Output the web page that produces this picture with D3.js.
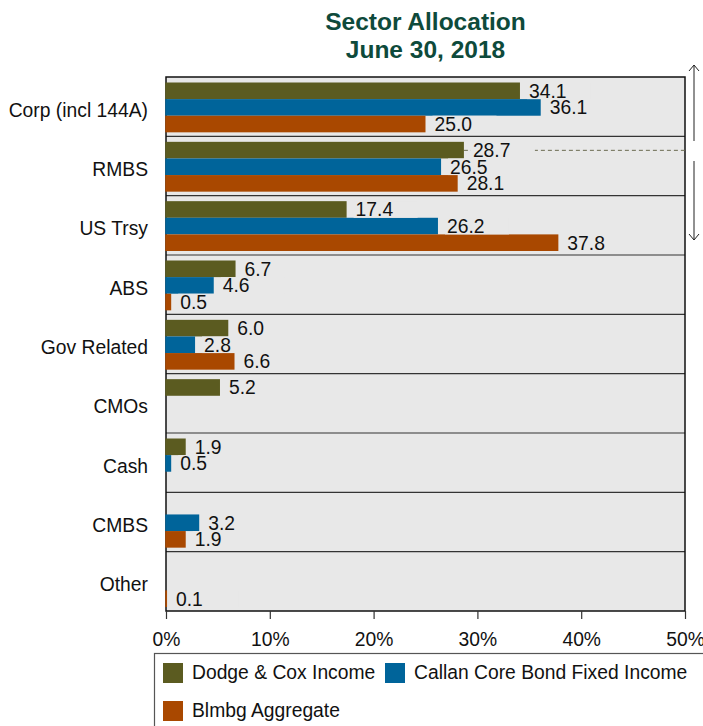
<!DOCTYPE html>
<html>
<head>
<meta charset="utf-8">
<script src="https://cdn.jsdelivr.net/npm/d3@7"></script>
<style>
  html, body { margin: 0; padding: 0; background: #fff; }
  svg { display: block; font-family: "Liberation Sans", Arial, sans-serif; }
</style>
</head>
<body>
<svg id="chart" width="703" height="726"></svg>
<script>
// Sector categories, top to bottom
const categories = ["Corp (incl 144A)", "RMBS", "US Trsy", "ABS", "Gov Related", "CMOs", "Cash", "CMBS", "Other"];
// Portfolio weights in percent (null = no holding)
const dodgeCox   = [34.1, 28.7, 17.4, 6.7, 6.0, 5.2, 1.9, null, null];
const callanCore = [36.1, 26.5, 26.2, 4.6, 2.8, null, 0.5, 3.2, null];
const blmbgAgg   = [25.0, 28.1, 37.8, 0.5, 6.6, null, null, 1.9, 0.1];
const seriesNames = ["Dodge & Cox Income", "Callan Core Bond Fixed Income", "Blmbg Aggregate"];
const seriesColors = ["#5b5b20", "#00649a", "#a94800"];
const xTicks = [0, 10, 20, 30, 40, 50];

const series = [dodgeCox, callanCore, blmbgAgg];
const svg = d3.select("#chart");
const FS = 19.3;
const plotBg = "#e8e8e8";

const plot = { left: 166, right: 685, top: 77, bottom: 611 };

const x = d3.scaleLinear().domain([0, 50]).range([plot.left, plot.right]);
const y = d3.scaleBand().domain(categories).range([plot.top, plot.bottom]);
const inner = d3.scaleBand().domain([0, 1, 2]).range([5.5, y.bandwidth() - 4]);

// Title
const title = svg.append("g").attr("fill", "#0e4a3b").attr("font-weight", "bold")
  .attr("font-size", 24.5).attr("text-anchor", "middle");
title.append("text").attr("x", (plot.left + plot.right) / 2).attr("y", 30).text("Sector Allocation");
title.append("text").attr("x", (plot.left + plot.right) / 2).attr("y", 58).text("June 30, 2018");

// Plot background
svg.append("rect")
  .attr("x", plot.left).attr("y", plot.top)
  .attr("width", plot.right - plot.left).attr("height", plot.bottom - plot.top)
  .attr("fill", plotBg);

// Separators between sectors
svg.append("g").selectAll("line")
  .data(categories.slice(1))
  .join("line")
  .attr("x1", plot.left).attr("x2", plot.right)
  .attr("y1", d => y(d)).attr("y2", d => y(d))
  .attr("stroke", "#333").attr("stroke-width", 1.2);

// Plot frame (bars are drawn over its left edge)
svg.append("rect")
  .attr("x", plot.left).attr("y", plot.top)
  .attr("width", plot.right - plot.left).attr("height", plot.bottom - plot.top)
  .attr("fill", "none").attr("stroke", "#111").attr("stroke-width", 1.5);

// Dashed reference line across the RMBS row, starting at the Dodge & Cox bar
const refY = y("RMBS") + 14;
svg.append("line")
  .attr("x1", x(dodgeCox[1])).attr("x2", plot.right).attr("y1", refY).attr("y2", refY)
  .attr("stroke", "#6a6a50").attr("stroke-width", 1).attr("stroke-dasharray", "4,3");

// Bars
const rowsBySeries = series.map(vals =>
  categories.map((c, i) => ({ c, v: vals[i] })).filter(d => d.v != null));

rowsBySeries.forEach((rows, si) => {
  svg.append("g").selectAll("rect")
    .data(rows)
    .join("rect")
    .attr("x", x(0) - 0.75)
    .attr("y", d => y(d.c) + inner(si))
    .attr("width", d => x(d.v) - x(0) + 0.75)
    .attr("height", inner.bandwidth())
    .attr("fill", seriesColors[si]);
});

// Value labels, each on a small background patch
const labelX = d => x(d.v) + 9;
rowsBySeries.forEach((rows, si) => {
  svg.append("g").selectAll("rect")
    .data(rows)
    .join("rect")
    .attr("x", d => labelX(d) - 2)
    .attr("y", d => y(d.c) + inner(si))
    .attr("width", 64)
    .attr("height", inner.bandwidth())
    .attr("fill", plotBg);
});
rowsBySeries.forEach((rows, si) => {
  svg.append("g").attr("font-size", FS).attr("fill", "#111")
    .selectAll("text")
    .data(rows)
    .join("text")
    .attr("x", labelX)
    .attr("y", d => y(d.c) + inner(si) + inner.bandwidth() / 2 + 7)
    .text(d => d.v.toFixed(1));
});

// Category axis labels
svg.append("g").attr("font-size", FS).attr("fill", "#111").attr("text-anchor", "end")
  .selectAll("text")
  .data(categories)
  .join("text")
  .attr("x", 148)
  .attr("y", d => y(d) + y.bandwidth() / 2 + 10)
  .text(d => d);

// Percentage axis
const xAxis = svg.append("g")
  .attr("transform", `translate(0,${plot.bottom})`)
  .call(d3.axisBottom(x).tickValues(xTicks).tickFormat(d => d + "%").tickSize(8));
xAxis.select(".domain").remove();
xAxis.selectAll(".tick line").attr("stroke", "#333").attr("stroke-width", 1.2);
xAxis.selectAll(".tick text")
  .attr("y", 35).attr("dy", null)
  .attr("font-size", FS).attr("fill", "#111")
  .attr("font-family", "\"Liberation Sans\", Arial, sans-serif");

// Side arrows
const arrowX = 694;
svg.append("path")
  .attr("d", `M${arrowX},65 L${arrowX},141 M${arrowX - 5},71 L${arrowX},65 L${arrowX + 5},71`)
  .attr("fill", "none").attr("stroke", "#222").attr("stroke-width", 1);
svg.append("path")
  .attr("d", `M${arrowX},161 L${arrowX},240 M${arrowX - 5},234 L${arrowX},240 L${arrowX + 5},234`)
  .attr("fill", "none").attr("stroke", "#222").attr("stroke-width", 1);

// Legend
const legend = svg.append("g");
legend.append("rect")
  .attr("x", 154.5).attr("y", 653.5).attr("width", 560).attr("height", 80)
  .attr("fill", "#fff").attr("stroke", "#555").attr("stroke-width", 1.2);
const legendPos = [[163, 663], [385, 663], [163, 701]];
seriesNames.forEach((name, i) => {
  const [lx, ly] = legendPos[i];
  legend.append("rect").attr("x", lx).attr("y", ly).attr("width", 20).attr("height", 20)
    .attr("fill", seriesColors[i]);
  legend.append("text").attr("x", lx + 29).attr("y", ly + 16)
    .attr("font-size", FS).attr("fill", "#111").text(name);
});
</script>
</body>
</html>
